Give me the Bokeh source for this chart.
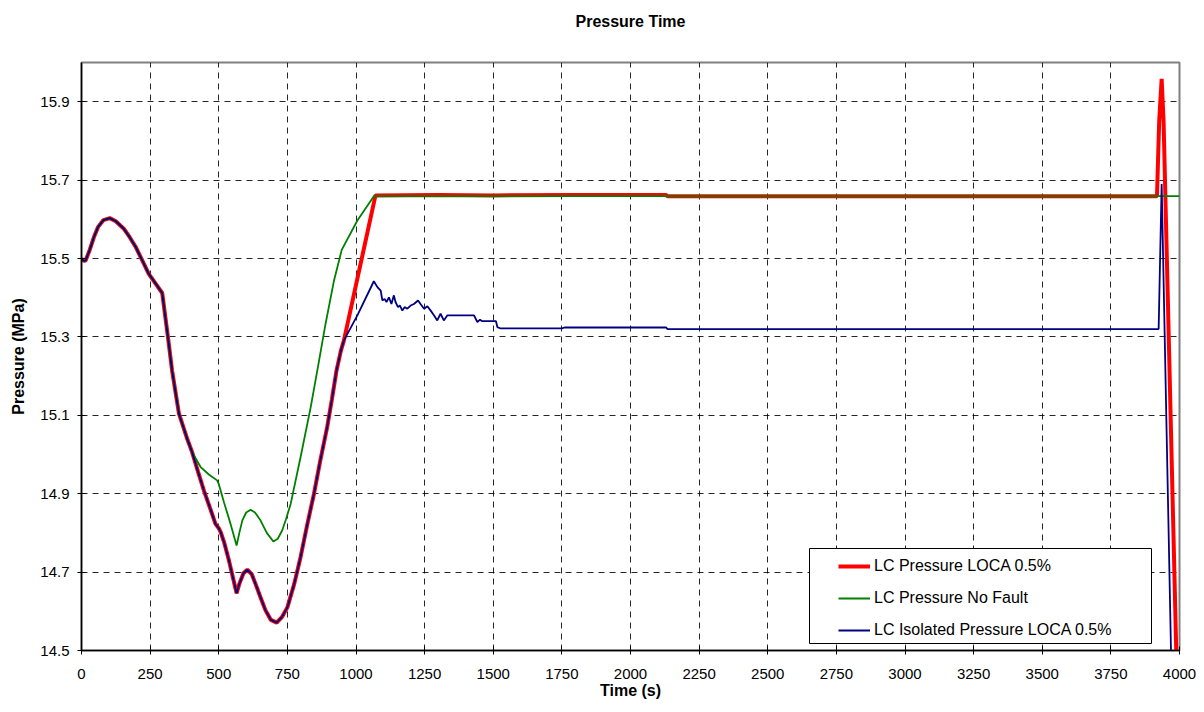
from bokeh.plotting import figure
from bokeh.models import (Range1d, FixedTicker, Legend, LegendItem, PrintfTickFormatter,
                          Title, BoxAnnotation)
from bokeh.embed import file_html
from bokeh.resources import INLINE

# ---- data ----
# common start of all three series
common_t = [0, 8, 15, 30, 45, 60, 80, 103, 125, 154, 175, 197, 220, 245, 270, 294,
            315, 330, 355, 385, 403]
common_p = [15.500, 15.494, 15.495, 15.522, 15.554, 15.580, 15.598, 15.603, 15.595,
            15.576, 15.555, 15.530, 15.497, 15.461, 15.436, 15.412,
            15.299, 15.214, 15.104, 15.040, 15.006]

# LOCA (red) and isolated (blue) share the dip
dip_t = [425, 446, 470, 488, 500, 507, 520, 537, 552, 565, 575, 590, 604, 620, 635,
         652, 670, 690, 711, 730, 750, 775, 798, 822, 847, 870, 895, 912, 929, 945, 956]
dip_p = [14.955, 14.908, 14.860, 14.823, 14.812, 14.802, 14.775, 14.730, 14.685, 14.646,
         14.670, 14.697, 14.706, 14.695, 14.668, 14.636, 14.603, 14.578, 14.571, 14.585,
         14.610, 14.670, 14.738, 14.820, 14.900, 14.985, 15.070, 15.140, 15.214, 15.265,
         15.291]

loca_tail_t = [1071, 1300, 1500, 1800, 2130, 2135, 3918, 3926, 3935, 3942, 3995]
loca_tail_p = [15.661, 15.662, 15.661, 15.662, 15.662, 15.659, 15.659, 15.850, 15.958,
               15.850, 14.300]

nofault_tail_t = [434, 464, 494, 500, 519, 543, 565, 575, 586, 600, 616, 632, 652, 675,
                  699, 715, 731, 745, 762, 798, 835, 859, 889, 920, 948, 1005, 1065, 4000]
nofault_tail_p = [14.968, 14.949, 14.934, 14.925, 14.878, 14.823, 14.768, 14.800, 14.832,
                  14.852, 14.859, 14.852, 14.832, 14.800, 14.778, 14.785, 14.806, 14.835,
                  14.874, 14.993, 15.121, 15.214, 15.333, 15.444, 15.522, 15.597, 15.659,
                  15.659]

iso_tail_t = [1005, 1065, 1078, 1090, 1096, 1104, 1111, 1120, 1129, 1138, 1144, 1153,
              1160, 1169, 1177, 1187, 1199, 1211, 1226, 1235, 1248, 1260, 1272, 1284,
              1296, 1308, 1320, 1333, 1430, 1442, 1452, 1460, 1510, 1515, 1525, 1750,
              1760, 2130, 2135, 3924, 3935, 3975]
iso_tail_p = [15.355, 15.442, 15.427, 15.418, 15.393, 15.397, 15.389, 15.401, 15.384,
              15.406, 15.389, 15.376, 15.380, 15.367, 15.376, 15.372, 15.380, 15.384,
              15.393, 15.384, 15.372, 15.378, 15.367, 15.355, 15.342, 15.359, 15.342,
              15.355, 15.355, 15.338, 15.344, 15.340, 15.340, 15.325, 15.322, 15.322,
              15.324, 15.324, 15.320, 15.320, 15.690, 14.290]

x_ticks = list(range(0, 4001, 250))
y_ticks = [14.5, 14.7, 14.9, 15.1, 15.3, 15.5, 15.7, 15.9]

loca_t = common_t + dip_t + loca_tail_t
loca_p = common_p + dip_p + loca_tail_p
nofault_t = common_t + nofault_tail_t
nofault_p = common_p + nofault_tail_p
iso_t = common_t + dip_t + iso_tail_t
iso_p = common_p + dip_p + iso_tail_p

FONT = "Liberation Sans"

p = figure(width=1196, height=704, output_backend="svg", toolbar_location=None,
           x_range=Range1d(0, 4000), y_range=Range1d(14.5, 16.0),
           title=None,
           min_border_left=81, min_border_right=17, min_border_top=62,
           min_border_bottom=54)

# spacer title (nearest the frame), then the real title above it
p.add_layout(Title(text=" ", text_font=FONT, text_font_size="14px"), "above")
p.add_layout(Title(text="Pressure Time", text_font=FONT, text_font_size="16px",
                   text_font_style="bold", text_color="black", align="center"), "above")

r_red = p.line(loca_t, loca_p, line_color="#FF0000", line_width=4)
r_green = p.line(nofault_t, nofault_p, line_color="#008000", line_width=1.8)
r_blue = p.line(iso_t, iso_p, line_color="#000080", line_width=1.8)

p.xaxis.ticker = FixedTicker(ticks=x_ticks)
p.yaxis.ticker = FixedTicker(ticks=y_ticks)
p.yaxis.formatter = PrintfTickFormatter(format="%.1f")
for ax in (p.xaxis[0], p.yaxis[0]):
    ax.major_label_text_font = FONT
    ax.major_label_text_font_size = "15px"
    ax.major_label_text_color = "black"
    ax.axis_label_text_font = FONT
    ax.axis_label_text_font_size = "16px"
    ax.axis_label_text_font_style = "bold"
    ax.axis_label_text_color = "black"
    ax.axis_line_color = "black"
    ax.axis_line_width = 1.5
    ax.major_tick_line_color = "black"
    ax.major_tick_in = 4
    ax.major_tick_out = 4
    ax.minor_tick_line_color = None
p.xaxis.axis_label = "Time (s)"
p.yaxis.axis_label = "Pressure (MPa)"
p.xaxis.major_label_standoff = 14
p.yaxis.major_label_standoff = 8
p.xaxis.axis_label_standoff = 0
p.yaxis.axis_label_standoff = 10

for g in (p.xgrid[0], p.ygrid[0]):
    g.grid_line_color = "black"
    g.grid_line_alpha = 0.85
    g.grid_line_dash = "6 5"
    g.grid_line_width = 1

p.outline_line_color = "#808080"
p.outline_line_width = 2
p.background_fill_color = "white"
p.border_fill_color = "white"

# legend frame (screen units, relative to the plot frame)
legend_box = BoxAnnotation(left=728, right=1070, bottom=7, top=102,
                           left_units="screen", right_units="screen",
                           bottom_units="screen", top_units="screen",
                           fill_color="white", fill_alpha=1.0,
                           line_color="black", line_width=1, line_alpha=1.0)
p.add_layout(legend_box)

legend = Legend(items=[
    LegendItem(label="LC Pressure LOCA 0.5%", renderers=[r_red]),
    LegendItem(label="LC Pressure No Fault", renderers=[r_green]),
    LegendItem(label="LC Isolated Pressure LOCA 0.5%", renderers=[r_blue]),
], location=(750, 3))
legend.label_text_font = FONT
legend.label_text_font_size = "16px"
legend.label_text_color = "black"
legend.padding = 7
legend.spacing = 12
legend.glyph_width = 32
legend.glyph_height = 20
legend.label_height = 20
legend.label_standoff = 4
legend.label_width = 268
legend.border_line_alpha = 0
legend.background_fill_alpha = 0
legend.margin = 0
p.add_layout(legend, "center")

open("out.html", "w").write(file_html(p, INLINE))
